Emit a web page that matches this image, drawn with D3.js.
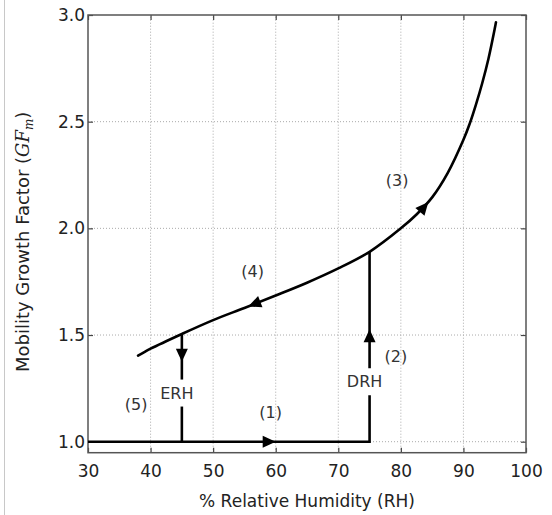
<!DOCTYPE html>
<html><head><meta charset="utf-8">
<script src="https://cdn.jsdelivr.net/npm/d3@7"></script>
<style>body{margin:0;background:#fff}text{font-family:"DejaVu Sans",sans-serif}</style>
</head><body>
<svg id="c" width="552" height="515"></svg>
<script>
// ---- data ----
const xTicks = [30, 40, 50, 60, 70, 80, 90, 100];
const yTicks = [1.0, 1.5, 2.0, 2.5, 3.0];
const curveRH = [38, 39, 40, 45, 50, 55, 60, 65, 70, 75, 80, 82.5, 85, 87.5, 90, 91, 92, 93, 94, 95, 95.2];
const curveGF = [1.403, 1.42, 1.436, 1.505, 1.57, 1.627, 1.685, 1.745, 1.812, 1.89, 2.00, 2.065, 2.145, 2.26, 2.415, 2.49, 2.58, 2.68, 2.795, 2.935, 2.966];
const startRH = 30, DRH = 75, ERH = 45, dryGF = 1.0;
const labelText = ["(1)", "(2)", "(3)", "(4)", "(5)", "ERH", "DRH"];
const labelRH   = [59.2, 79.2, 79.4, 56.3, 37.7, 44.2, 74.2];
const labelGF   = [1.135, 1.397, 2.226, 1.797, 1.172, 1.228, 1.281];

const W = 552, H = 515;
const m = {l: 88, t: 15, r: 26, b: 62.3};
const x = d3.scaleLinear().domain([30, 100]).range([m.l, W - m.r]);
const y = d3.scaleLinear().domain([0.9484, 3.0]).range([H - m.b, m.t]);
const svg = d3.select("#c");

svg.append("line").attr("x1", 4.5).attr("x2", 4.5).attr("y1", 0).attr("y2", H)
  .attr("stroke", "#c8c8c8").attr("stroke-width", 1);

const x0 = x.range()[0], x1 = x.range()[1], y0 = y.range()[0], y1 = y.range()[1];

// grid
const g = svg.append("g");
g.selectAll(".gx").data(xTicks.slice(1, -1)).join("line")
  .attr("x1", d => x(d)).attr("x2", d => x(d)).attr("y1", y0).attr("y2", y1)
  .attr("stroke", "#aaa").attr("stroke-dasharray", "1,2");
g.selectAll(".gy").data(yTicks.filter(v => v < 3)).join("line")
  .attr("y1", d => y(d)).attr("y2", d => y(d)).attr("x1", x0).attr("x2", x1)
  .attr("stroke", "#aaa").attr("stroke-dasharray", "1,2");

// axes (inward ticks on all four sides)
const tickLen = 5;
const axB = svg.append("g").attr("transform", `translate(0,${y0})`)
  .call(d3.axisBottom(x).tickValues(xTicks).tickSize(-tickLen).tickPadding(12).tickFormat(d3.format("d")));
const axT = svg.append("g").attr("transform", `translate(0,${y1})`)
  .call(d3.axisTop(x).tickValues(xTicks).tickSize(-tickLen).tickFormat(""));
const axL = svg.append("g").attr("transform", `translate(${x0},0)`)
  .call(d3.axisLeft(y).tickValues(yTicks).tickSize(-tickLen).tickPadding(3).tickFormat(d3.format(".1f")));
const axR = svg.append("g").attr("transform", `translate(${x1},0)`)
  .call(d3.axisRight(y).tickValues(yTicks).tickSize(-tickLen).tickFormat(""));
[axB, axT, axL, axR].forEach(a => {
  a.select(".domain").remove();
  a.selectAll(".tick line").attr("stroke", "#444").attr("stroke-width", 1.2);
  a.selectAll("text").attr("font-size", 17).attr("fill", "#222").attr("font-family", "DejaVu Sans");
});
svg.append("rect").attr("x", x0).attr("y", y1).attr("width", x1 - x0).attr("height", y0 - y1)
  .attr("fill", "none").attr("stroke", "#555").attr("stroke-width", 1.5);

// axis titles
svg.append("text").attr("x", (x0 + x1) / 2).attr("y", 507).attr("text-anchor", "middle")
  .attr("font-size", 17).attr("fill", "#222").text("% Relative Humidity (RH)");
const yl = svg.append("text").attr("transform", `translate(29,${(y0 + y1) / 2 + 8}) rotate(-90)`)
  .attr("text-anchor", "middle").attr("font-size", 18).attr("fill", "#222");
yl.append("tspan").text("Mobility Growth Factor (");
yl.append("tspan").attr("font-style", "italic").attr("font-family", "DejaVu Serif").text("GF");
yl.append("tspan").attr("font-style", "italic").attr("font-family", "DejaVu Serif").attr("font-size", 12).attr("dy", 4).text("m");
yl.append("tspan").attr("dy", -4).text(")");

// data lines
const gfAt = rh => curveGF[curveRH.indexOf(rh)];
const pts = curveRH.map((r, i) => [r, curveGF[i]]);
const line = d3.line().x(d => x(d[0])).y(d => y(d[1])).curve(d3.curveCatmullRom.alpha(0.5));
const curvePath = svg.append("path").attr("d", line(pts)).attr("fill", "none")
  .attr("stroke", "#000").attr("stroke-width", 2.6).attr("stroke-linecap", "round");

const lw = 2.6;
svg.append("line").attr("x1", x(startRH)).attr("x2", x(DRH)).attr("y1", y(dryGF)).attr("y2", y(dryGF))
  .attr("stroke", "#000").attr("stroke-width", lw);
svg.append("line").attr("x1", x(DRH)).attr("x2", x(DRH)).attr("y1", y(dryGF) + lw / 2).attr("y2", y(gfAt(DRH)))
  .attr("stroke", "#000").attr("stroke-width", lw);
svg.append("line").attr("x1", x(ERH)).attr("x2", x(ERH)).attr("y1", y(dryGF)).attr("y2", y(gfAt(ERH)))
  .attr("stroke", "#000").attr("stroke-width", lw);

// arrowheads
function arrow(px, py, ang) {
  svg.append("path").attr("d", "M0,0L-13,-6L-13,6Z").attr("fill", "#000")
    .attr("transform", `translate(${px},${py}) rotate(${ang})`);
}
arrow(x(60), y(dryGF), 0);
arrow(x(DRH), y(1.527), -90);
arrow(x(ERH), y(1.375), 90);

const node = curvePath.node(), L = node.getTotalLength();
function ptAtX(px) {
  let lo = 0, hi = L;
  for (let i = 0; i < 40; i++) { const mid = (lo + hi) / 2; if (node.getPointAtLength(mid).x < px) lo = mid; else hi = mid; }
  return lo;
}
function curveArrow(rh, dir) {
  const s = ptAtX(x(rh));
  const p = node.getPointAtLength(s), a = node.getPointAtLength(s - 2), b = node.getPointAtLength(s + 2);
  let ang = Math.atan2(b.y - a.y, b.x - a.x) * 180 / Math.PI;
  if (dir < 0) ang += 180;
  arrow(p.x, p.y, ang);
}
curveArrow(84.4, 1);
curveArrow(55.6, -1);

// labels
labelText.forEach((t, i) => {
  const tx = svg.append("text").attr("x", x(labelRH[i])).attr("y", y(labelGF[i]))
    .attr("text-anchor", "middle").attr("dominant-baseline", "central")
    .attr("font-size", 16).attr("fill", "#333").text(t);
  if (t === "ERH" || t === "DRH") {
    const bb = tx.node().getBBox();
    svg.insert("rect", () => tx.node()).attr("x", bb.x - 2).attr("y", bb.y - 4)
      .attr("width", bb.width + 4).attr("height", bb.height + 8).attr("fill", "#fff");
  }
});
</script>
</body></html>
